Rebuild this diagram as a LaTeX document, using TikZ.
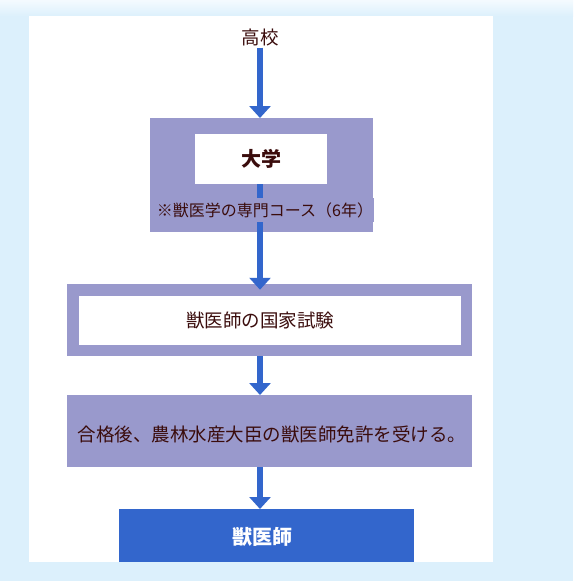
\documentclass[tikz,border=0pt]{standalone}
\usepackage{fontspec}
\newfontfamily\jp{Noto Sans CJK JP}
\usetikzlibrary{arrows.meta}
\definecolor{bgblue}{HTML}{DCF0FC}
\definecolor{boxpurple}{HTML}{9999CC}
\definecolor{flowblue}{HTML}{3366CC}
\definecolor{txt}{HTML}{3A0C0C}
\tikzset{
  txtnode/.style={inner sep=0pt, text=txt, font=\jp\fontsize{18.5}{20}\selectfont},
  flowarrow/.style={draw=flowblue, line width=6pt, -{Triangle[width=21pt,length=12pt]}},
  boxnode/.style={inner sep=0pt, outer sep=0pt, anchor=north west},
}
\begin{document}
\begin{tikzpicture}[x=1pt,y=-1pt]
\useasboundingbox (0,0) rectangle (573,581);
\fill[bgblue] (0,0) rectangle (573,581);
\shade[top color=white!70!bgblue, bottom color=bgblue] (0,0) rectangle (573,16);
\fill[white] (29,16) rectangle (493,562);

% top label
\node[txtnode] (koukou) at (260,37) {高校};

% box 1
\node[boxnode, fill=boxpurple, minimum width=223pt, minimum height=114pt] (box1) at (150,118) {};
\node[boxnode, fill=white, minimum width=132pt, minimum height=50pt] (inner1) at (195,134) {};
\node[txtnode, font=\jp\bfseries\fontsize{20}{22}\selectfont] (daigaku) at (inner1.center) {大学};

% box 2
\node[boxnode, fill=white, draw=boxpurple, line width=11.5pt, minimum width=393.5pt, minimum height=60.5pt] (box2) at (72.75,289.75) {};
\node[txtnode] (shiken) at (260,321) {獣医師の国家試験};

% box 3
\node[boxnode, fill=boxpurple, minimum width=405pt, minimum height=72pt] (box3) at (67,395) {};
\node[txtnode] (menkyo) at (272,434) {合格後、農林水産大臣の獣医師免許を受ける。};

% box 4
\node[boxnode, fill=flowblue, minimum width=295pt, minimum height=53pt] (box4) at (119,509) {};
\node[txtnode, text=white, font=\jp\bfseries\fontsize{20}{22}\selectfont] (juui) at (262,537) {獣医師};

% arrows
\draw[flowarrow] (koukou.south) ++(0,2) -- (koukou.south |- box1.north);
\draw[flowarrow] (inner1.south -| koukou) -- (koukou |- box2.north);
\node[txtnode, fill=boxpurple, inner ysep=4pt, inner xsep=1pt, font=\jp\fontsize{16}{18}\selectfont] (course) at (265,210) {※獣医学の専門コース（6年）};
\draw[flowarrow] (box2.south -| koukou) ++(0,5.75) -- (koukou |- box3.north);
\draw[flowarrow] (box3.south -| koukou) -- (koukou |- box4.north);
\end{tikzpicture}
\end{document}
